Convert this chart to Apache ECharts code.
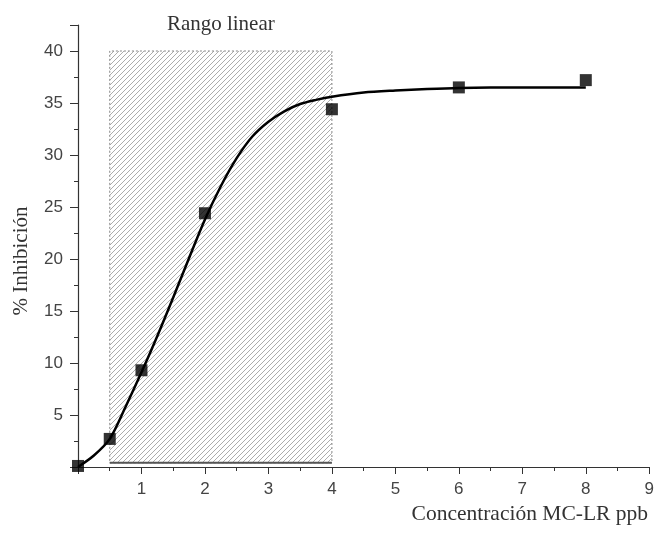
<!DOCTYPE html>
<html>
<head>
<meta charset="utf-8">
<script src="https://cdn.jsdelivr.net/npm/echarts@6/dist/echarts.min.js"></script>
<style>html,body{margin:0;padding:0;background:#fff}#c{width:657px;height:535px}</style>
</head>
<body>
<div id="c"></div>
<script>
// Measured points
var pointX = [0, 0.5, 1, 2, 4, 6, 8];
var pointY = [0.1, 2.7, 9.3, 24.4, 34.4, 36.5, 37.2];
// Fitted curve
var curveX = [0, 0.25, 0.5, 0.75, 1, 1.25, 1.5, 1.75, 2, 2.25, 2.5, 2.75, 3, 3.25, 3.5, 3.75, 4, 4.5, 5, 5.5, 6, 7, 8];
var curveY = [0, 1.1, 2.7, 5.8, 9.1, 12.6, 16.3, 20.1, 23.8, 27.0, 29.7, 31.8, 33.2, 34.2, 34.9, 35.3, 35.6, 36.0, 36.2, 36.35, 36.45, 36.5, 36.5];
// Linear range region
var rangeX = [0.5, 4];
var rangeY = [0.4, 40];
var rangeLabel = 'Rango linear';
var xTicks = [1, 2, 3, 4, 5, 6, 7, 8, 9];
var yTicks = [5, 10, 15, 20, 25, 30, 35, 40];
var xName = 'Concentración MC-LR ppb';
var yName = '% Inhibición';

function makePattern() {
  var S = 5;
  var cv = document.createElement('canvas');
  cv.width = S; cv.height = S;
  var ctx = cv.getContext('2d');
  ctx.strokeStyle = '#a3a3a3';
  ctx.lineWidth = 0.9;
  for (var k = -1; k <= 1; k++) {
    ctx.beginPath();
    ctx.moveTo(k * S, S);
    ctx.lineTo(k * S + S, 0);
    ctx.stroke();
  }
  return cv;
}

var chart = echarts.init(document.getElementById('c'), null, {renderer: 'canvas'});
var axisColor = '#333';
var labelFont = {color: '#444', fontFamily: 'Liberation Sans', fontSize: 17};
var option = {
  animation: false,
  grid: {left: 78, right: 7, top: 25, bottom: 68, containLabel: false},
  xAxis: {
    type: 'value', min: 0, max: 9, interval: 1,
    axisLine: {lineStyle: {color: axisColor, width: 1.2}},
    axisTick: {show: true, length: 7, lineStyle: {color: axisColor}},
    minorTick: {show: true, splitNumber: 2, length: 4, lineStyle: {color: axisColor}},
    splitLine: {show: false},
    axisLabel: Object.assign({margin: 14, formatter: function (v) { return xTicks.indexOf(v) >= 0 ? String(v) : ''; }}, labelFont)
  },
  yAxis: {
    type: 'value', min: 0, max: 42.5, interval: 5,
    axisLine: {show: true, lineStyle: {color: axisColor, width: 1.2}},
    axisTick: {show: true, length: 8, lineStyle: {color: axisColor}},
    minorTick: {show: true, splitNumber: 2, length: 4, lineStyle: {color: axisColor}},
    splitLine: {show: false},
    axisLabel: Object.assign({margin: 15, showMaxLabel: false, formatter: function (v) { return yTicks.indexOf(v) >= 0 ? String(v) : ''; }}, labelFont)
  },
  graphic: [
    {type: 'text', x: 648, y: 514, style: {text: xName, font: '21.5px "Liberation Serif"', fill: '#333', align: 'right', verticalAlign: 'middle'}},
    {type: 'text', x: 21, y: 261, rotation: Math.PI / 2, style: {text: yName, font: '21px "Liberation Serif"', fill: '#333', align: 'center', verticalAlign: 'middle'}}
  ],
  series: [
    {
      type: 'line', data: [[rangeX[0], rangeY[0]], [rangeX[1], rangeY[0]]],
      symbol: 'none', lineStyle: {color: '#555', width: 2}, silent: true, z: 2,
      markArea: {
        silent: true,
        itemStyle: {color: {image: makePattern(), repeat: 'repeat'}, borderColor: '#888', borderWidth: 1, borderType: [2, 2]},
        label: {show: true, position: 'top', distance: 16, color: '#333', fontFamily: 'Liberation Serif', fontSize: 21},
        data: [[{name: rangeLabel, coord: [rangeX[0], rangeY[0]]}, {coord: [rangeX[1], rangeY[1]]}]]
      }
    },
    {
      type: 'line', data: curveX.map(function (x, i) { return [x, curveY[i]]; }),
      smooth: 0.3, symbol: 'none', lineStyle: {color: '#000', width: 2.5}, z: 3
    },
    {
      type: 'scatter', data: pointX.map(function (x, i) { return [x, pointY[i]]; }),
      symbol: 'rect', symbolSize: 12, itemStyle: {color: '#000'}, z: 4
    }
  ]
};
chart.setOption(option);
</script>
</body>
</html>
